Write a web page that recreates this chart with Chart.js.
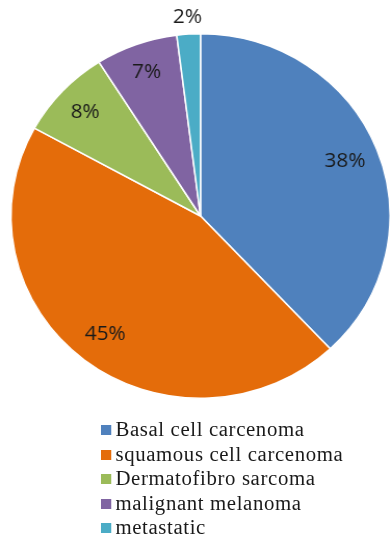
<!DOCTYPE html>
<html>
<head>
<meta charset="utf-8">
<script src="https://cdn.jsdelivr.net/npm/chart.js@4.4.1/dist/chart.umd.min.js"></script>
<style>
  html, body { margin: 0; padding: 0; background: #fff; overflow: hidden; }
  /* the figure is laid out at 377px wide and widened to fill 392px */
  #wrap { position: relative; width: 377px; height: 544px; transform: scaleX(1.0398); transform-origin: 0 0; }
  #pie { position: absolute; left: 0; top: 0; }
  #legend { position: absolute; left: 97px; top: 417px; margin: 0; padding: 0; list-style: none;
            font-family: "Liberation Serif", "Times New Roman", serif; font-size: 20px;
            letter-spacing: 0.6px; color: #1a1a1a; }
  #legend li { position: relative; height: 24.5px; line-height: 24.5px; padding-left: 14px; white-space: nowrap; }
  #legend .sw { position: absolute; left: 0; top: 8px; width: 10px; height: 10px; }
</style>
</head>
<body>
<div id="wrap">
  <canvas id="pie" width="377" height="544"></canvas>
  <ul id="legend"></ul>
</div>
<script>
// Skin cancer types and their share (%)
const categories = ["Basal cell carcenoma", "squamous cell carcenoma", "Dermatofibro sarcoma", "malignant melanoma", "metastatic"];
const shares = [38, 45, 8, 7, 2];
const sliceColors = ["#4F81BD", "#E46C0A", "#9BBB59", "#8064A2", "#4BACC6"];
// distance of each percentage label from the centre, as a fraction of the radius
const labelRadius = [0.82, 0.82, 0.835, 0.84, 1.09];

// Percent labels drawn at each slice's mid-angle
const sliceLabels = {
  id: "sliceLabels",
  afterDatasetsDraw(chart) {
    const { ctx } = chart;
    const meta = chart.getDatasetMeta(0);
    ctx.save();
    ctx.font = '20px "Open Sans", "DejaVu Sans", sans-serif';
    ctx.fillStyle = "#1a1a1a";
    ctx.textAlign = "center";
    ctx.textBaseline = "middle";
    meta.data.forEach((arc, i) => {
      const p = arc.getProps(["x", "y", "startAngle", "endAngle", "outerRadius"], true);
      const mid = (p.startAngle + p.endAngle) / 2;
      const r = p.outerRadius * labelRadius[i];
      ctx.fillText(shares[i] + "%", p.x + Math.cos(mid) * r, p.y + Math.sin(mid) * r);
    });
    ctx.restore();
  }
};

new Chart(document.getElementById("pie"), {
  type: "pie",
  data: {
    labels: categories,
    datasets: [{
      data: shares,
      backgroundColor: sliceColors,
      borderColor: "#ffffff",
      borderWidth: 1.5
    }]
  },
  options: {
    responsive: false,
    animation: false,
    layout: { padding: { left: 9.8, right: 1.2, top: 33, bottom: 145 } },
    plugins: { legend: { display: false }, tooltip: { enabled: false } }
  },
  plugins: [sliceLabels]
});

// Legend list below the pie
const legend = document.getElementById("legend");
categories.forEach((name, i) => {
  const li = document.createElement("li");
  const sw = document.createElement("span");
  sw.className = "sw";
  sw.style.background = sliceColors[i];
  li.appendChild(sw);
  li.appendChild(document.createTextNode(name));
  legend.appendChild(li);
});
</script>
</body>
</html>
